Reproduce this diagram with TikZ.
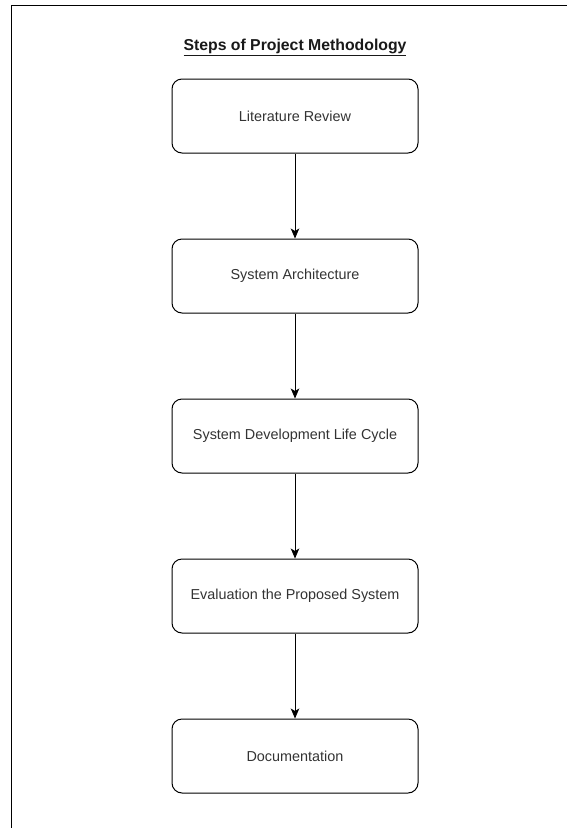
\documentclass[tikz,border=0pt]{standalone}
\usepackage{fontspec}
\setmainfont{Liberation Sans}
\usetikzlibrary{arrows.meta}
\definecolor{labelgray}{HTML}{333333}
\begin{document}
\begin{tikzpicture}[x=1pt,y=-1pt,
  stepbox/.style={draw=black, line width=1pt, rounded corners=10pt,
    minimum width=246pt, minimum height=74pt, inner sep=0pt,
    font=\fontsize{14.4}{17}\selectfont, text=labelgray},
  flow/.style={line width=0.9pt, -{Stealth[length=10pt,width=8.5pt,inset=2.5pt]}},
  frame/.style={line width=1.9pt, line join=miter}]
  \useasboundingbox (0,0) rectangle (566,828);
  % page frame (only the top and left edges fall inside the sheet)
  \coordinate (frameR) at (570,5.5);
  \coordinate (frameC) at (11.5,5.5);
  \coordinate (frameB) at (11.5,832);
  \draw[frame] (frameR) -- (frameC) -- (frameB);
  % title
  \node[font=\fontsize{15.8}{19}\bfseries\selectfont, text=black!90, inner sep=0pt]
    (title) at (295,47.5) {\underline{Steps of Project Methodology}};
  % steps
  \node[stepbox] (s1) at (295,116) {Literature Review};
  \node[stepbox] (s2) at (295,276) {System Architecture};
  \node[stepbox] (s3) at (295,436) {System Development Life Cycle};
  \node[stepbox] (s4) at (295,596) {Evaluation the Proposed System};
  \node[stepbox] (s5) at (295,756) {Documentation};
  % connectors
  \draw[flow] (s1) -- (s2);
  \draw[flow] (s2) -- (s3);
  \draw[flow] (s3) -- (s4);
  \draw[flow] (s4) -- (s5);
\end{tikzpicture}
\end{document}
